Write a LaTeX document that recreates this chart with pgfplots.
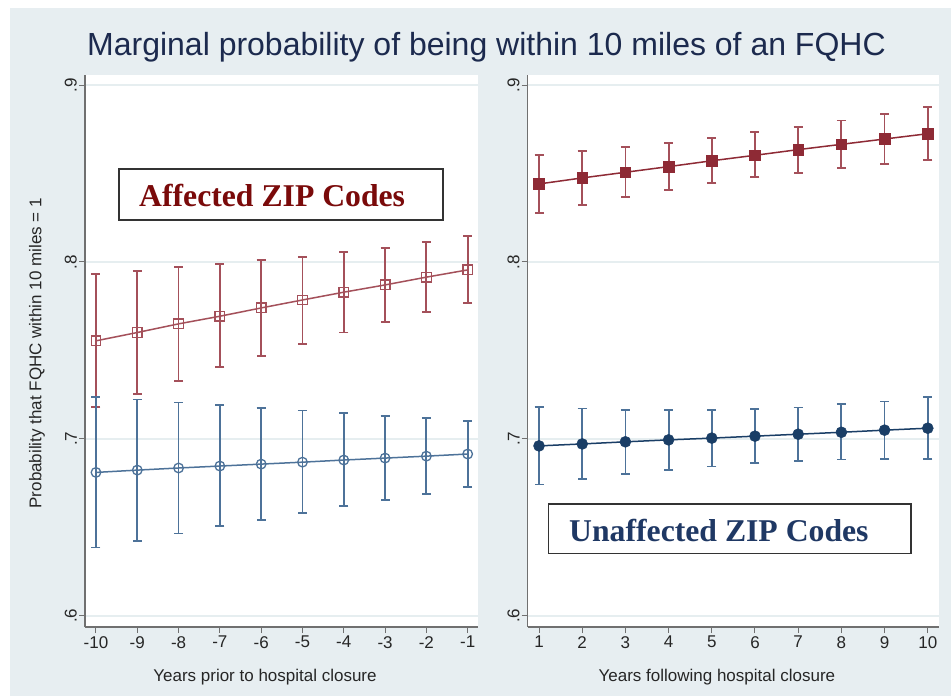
\documentclass[border=0pt]{standalone}
\usepackage{fontspec}
\setmainfont{Liberation Sans}
\newfontfamily\boxserif{Liberation Serif}
\usepackage{pgfplots}
\usepackage{pgfplotstable}
\pgfplotsset{compat=1.18}
\definecolor{bg}{HTML}{E7EEF1}
\definecolor{gridc}{HTML}{E6EEF0}
\definecolor{redm}{HTML}{8E2A35}
\definecolor{rede}{HTML}{A4505A}
\definecolor{bluem}{HTML}{1A3E66}
\definecolor{bluee}{HTML}{4D7299}
\definecolor{titlec}{HTML}{1C2A4E}
\definecolor{axisc}{HTML}{707070}
\definecolor{affc}{HTML}{7A0A0A}
\definecolor{unaffc}{HTML}{1F3864}

\pgfplotstableread{
x y lo hi
-10 0.7554 0.7179 0.7934
-9 0.7601 0.7254 0.7951
-8 0.7650 0.7329 0.7970
-7 0.7693 0.7405 0.7989
-6 0.7740 0.7470 0.8010
-5 0.7785 0.7537 0.8030
-4 0.7829 0.7601 0.8055
-3 0.7870 0.7659 0.8081
-2 0.7914 0.7716 0.8113
-1 0.7955 0.7766 0.8147
}\leftred
\pgfplotstableread{
x y lo hi
-10 0.6810 0.6386 0.7236
-9 0.6823 0.6424 0.7222
-8 0.6835 0.6465 0.7205
-7 0.6846 0.6505 0.7190
-6 0.6857 0.6541 0.7175
-5 0.6868 0.6580 0.7160
-4 0.6880 0.6618 0.7145
-3 0.6891 0.6655 0.7130
-2 0.6902 0.6689 0.7117
-1 0.6914 0.6727 0.7102
}\leftblue
\pgfplotstableread{
x y lo hi
1 0.8441 0.8275 0.8605
2 0.8475 0.8324 0.8627
3 0.8507 0.8369 0.8648
4 0.8539 0.8407 0.8674
5 0.8572 0.8445 0.8700
6 0.8603 0.8479 0.8733
7 0.8635 0.8505 0.8764
8 0.8665 0.8531 0.8800
9 0.8695 0.8554 0.8838
10 0.8725 0.8575 0.8874
}\rightred
\pgfplotstableread{
x y lo hi
1 0.6960 0.6742 0.7179
2 0.6971 0.6774 0.7171
3 0.6983 0.6801 0.7165
4 0.6994 0.6825 0.7162
5 0.7004 0.6844 0.7164
6 0.7015 0.6863 0.7169
7 0.7026 0.6876 0.7177
8 0.7037 0.6883 0.7196
9 0.7049 0.6887 0.7211
10 0.7060 0.6885 0.7236
}\rightblue

\pgfplotsset{
  panel/.style={
    scale only axis, height=552bp,
    axis x line*=bottom, axis y line*=left,
    axis line style={axisc, line width=1.3bp},
    axis background/.style={fill=white},
    ymin=0.5936, ymax=0.9057,
    ytick={0.6,0.7,0.8,0.9}, yticklabels={.6,.7,.8,.9},
    /pgf/number format/assume math mode=true,
    ticklabel style={font=\fontsize{17bp}{20bp}\selectfont, text=black!85},
    yticklabel style={rotate=90, anchor=south, inner sep=2bp},
    xticklabel style={inner sep=3bp},
    ymajorgrids, grid style={gridc, line width=1.8bp},
    tick align=outside, major tick length=6bp,
    tick style={axisc, line width=1bp},
    label style={font=\fontsize{17bp}{20bp}\selectfont, text=black!85},
    clip=false,
  },
  errs/.style={
    error bars/.cd, y dir=both, y explicit,
    error bar style={#1, line width=1.8bp},
    error mark options={#1, mark size=4.5bp, line width=1.8bp, rotate=90},
  },
}

\begin{document}
\begin{tikzpicture}
\useasboundingbox (0,0) rectangle (951bp,696bp);
\fill[white] (0,0) rectangle (951bp,696bp);
\fill[bg] (10bp,0) rectangle (951bp,688bp);

\node[text=titlec, font=\fontsize{32bp}{36bp}\selectfont, anchor=base] at (486.5bp,640bp) {Marginal probability of being within 10 miles of an FQHC};

% Left panel
\begin{axis}[panel, at={(85bp,69bp)}, anchor=south west, width=393bp,
  xmin=-10.266, xmax=-0.75,
  xtick={-10,-9,...,-1}, xticklabels={-10,-9,-8,-7,-6,-5,-4,-3,-2,-1},
  xlabel={Years prior to hospital closure},
  xlabel style={at={(rel axis cs:0.458,0)}, anchor=center, yshift=-50bp},
  ylabel={Probability that FQHC within 10 miles = 1},
  ylabel style={at={(rel axis cs:0,0.496)}, anchor=center, yshift=48bp},
]
\addplot[rede, line width=1.5bp, mark=square, mark size=4.8bp,
  mark options={line width=1.3bp, rede, fill=none},
  errs=rede]
  table[x=x, y=y, y error plus expr=\thisrow{hi}-\thisrow{y}, y error minus expr=\thisrow{y}-\thisrow{lo}] {\leftred};
\addplot[bluee, line width=1.5bp, mark=o, mark size=4.8bp,
  mark options={line width=1.3bp, bluee, fill=none},
  errs=bluee]
  table[x=x, y=y, y error plus expr=\thisrow{hi}-\thisrow{y}, y error minus expr=\thisrow{y}-\thisrow{lo}] {\leftblue};
\end{axis}

% Right panel
\begin{axis}[panel, at={(527.7bp,69bp)}, anchor=south west, width=411.3bp,
  xmin=0.738, xmax=10.26,
  xtick={1,2,...,10},
  xlabel={Years following hospital closure},
  xlabel style={at={(rel axis cs:0.46,0)}, anchor=center, yshift=-50bp},
]
\addplot[redm, line width=1.5bp, mark=square*, mark size=5.3bp,
  mark options={redm, fill=redm, line width=0.5bp},
  errs=rede]
  table[x=x, y=y, y error plus expr=\thisrow{hi}-\thisrow{y}, y error minus expr=\thisrow{y}-\thisrow{lo}] {\rightred};
\addplot[bluem, line width=1.5bp, mark=*, mark size=5.5bp,
  mark options={bluem, fill=bluem, line width=0.5bp},
  errs=bluee]
  table[x=x, y=y, y error plus expr=\thisrow{hi}-\thisrow{y}, y error minus expr=\thisrow{y}-\thisrow{lo}] {\rightblue};
\end{axis}

% Annotation boxes
\draw[black!80, line width=1.3bp, fill=white] (119bp,476bp) rectangle (443bp,527bp);
\node[anchor=base west, inner sep=0, text=affc, font=\boxserif\bfseries\fontsize{31.7bp}{34bp}\selectfont] at (139bp,489.3bp) {Affected ZIP Codes};
\draw[black!80, line width=1.3bp, fill=white] (548.7bp,142.7bp) rectangle (911bp,192bp);
\node[anchor=base west, inner sep=0, text=unaffc, font=\boxserif\bfseries\fontsize{31.7bp}{34bp}\selectfont] at (569bp,154.3bp) {Unaffected ZIP Codes};
\end{tikzpicture}
\end{document}
